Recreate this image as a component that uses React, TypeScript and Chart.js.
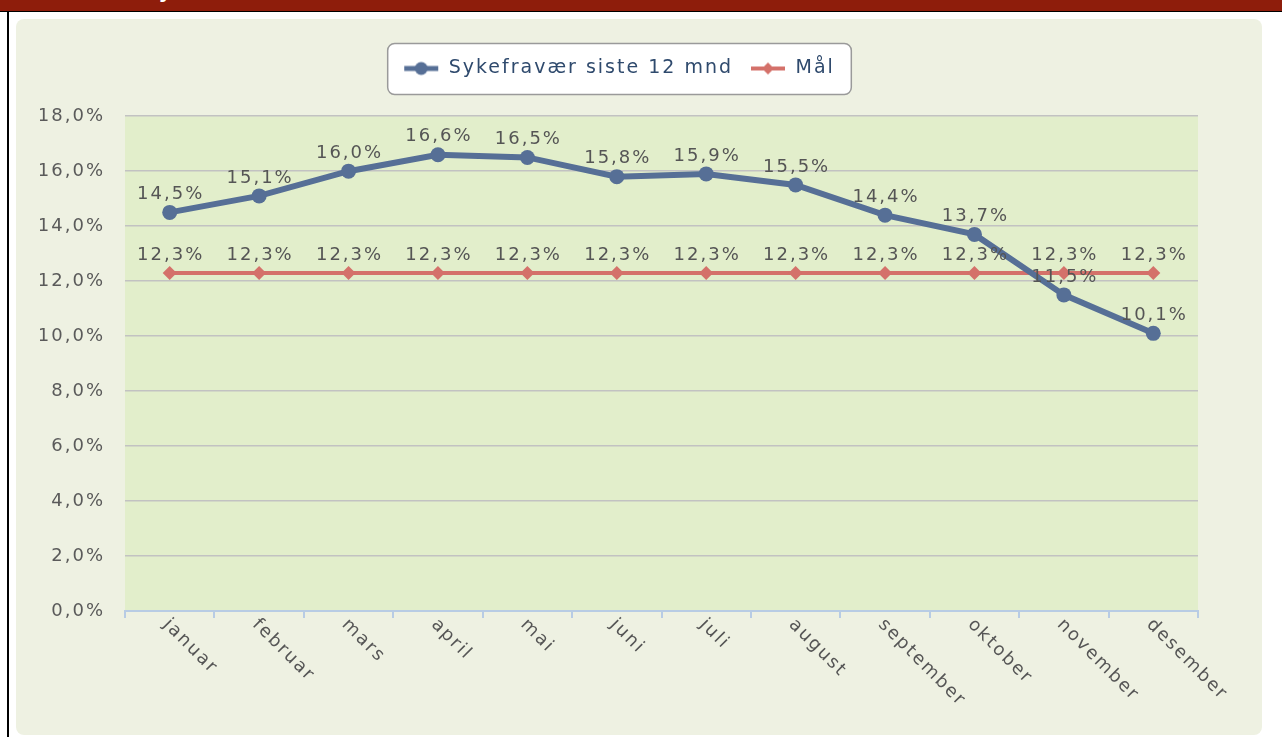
import React, { useEffect, useRef } from "react";
import { Chart, registerables } from "chart.js";

Chart.register(...registerables);

const months = ["januar", "februar", "mars", "april", "mai", "juni", "juli", "august", "september", "oktober", "november", "desember"];
const sickLeave = [14.5, 15.1, 16.0, 16.6, 16.5, 15.8, 15.9, 15.5, 14.4, 13.7, 11.5, 10.1];
const target = [12.3, 12.3, 12.3, 12.3, 12.3, 12.3, 12.3, 12.3, 12.3, 12.3, 12.3, 12.3];
const seriesNames = ["Sykefravær siste 12 mnd", "Mål"];
const yMin = 0;
const yMax = 18;
const yStep = 2;

const BLUE = "#566f96";
const RED = "#d4716a";
const FONT = '"DejaVu Sans", Verdana, sans-serif';

const fmt = (v: number) => v.toFixed(1).replace(".", ",") + "%";

function makeMarker(color: string, shape: "circle" | "diamond") {
  const c = document.createElement("canvas");
  c.width = 36;
  c.height = 16;
  const g = c.getContext("2d")!;
  g.strokeStyle = color;
  g.lineWidth = shape === "circle" ? 5 : 4;
  g.beginPath();
  g.moveTo(1, 8);
  g.lineTo(35, 8);
  g.stroke();
  g.fillStyle = color;
  g.beginPath();
  if (shape === "circle") {
    g.arc(18, 8, 6.5, 0, Math.PI * 2);
  } else {
    g.moveTo(18, 2);
    g.lineTo(24, 8);
    g.lineTo(18, 14);
    g.lineTo(12, 8);
    g.closePath();
  }
  g.fill();
  return c;
}

const spacingPlugin = {
  id: "spacing",
  beforeInit(chart: any) {
    chart.ctx.letterSpacing = "2px";
  },
  beforeUpdate(chart: any) {
    chart.ctx.letterSpacing = "2px";
  },
  beforeLayout(chart: any) {
    chart.ctx.letterSpacing = "2px";
  },
  beforeDraw(chart: any) {
    const { ctx, chartArea } = chart;
    ctx.letterSpacing = "2px";
    ctx.save();
    ctx.fillStyle = "#e2eecb";
    ctx.fillRect(chartArea.left, chartArea.top, chartArea.right - chartArea.left, chartArea.bottom - chartArea.top);
    const hb = chart.legend && chart.legend.legendHitBoxes;
    if (hb && hb.length) {
      const l = Math.min(...hb.map((h: any) => h.left)) - 16;
      const r = Math.max(...hb.map((h: any) => h.left + h.width)) + 16;
      const t = hb[0].top - 16;
      const b = hb[0].top + hb[0].height + 16;
      ctx.beginPath();
      ctx.roundRect(l + 0.5, t + 0.5, r - l, b - t, 7);
      ctx.fillStyle = "#ffffff";
      ctx.fill();
      ctx.lineWidth = 1.5;
      ctx.strokeStyle = "#9a9a9a";
      ctx.stroke();
    }
    ctx.restore();
  },
};

const labelsPlugin = {
  id: "valueLabels",
  afterDatasetsDraw(chart: any) {
    const { ctx } = chart;
    ctx.save();
    ctx.letterSpacing = "2px";
    ctx.font = "18px " + FONT;
    ctx.fillStyle = "#555555";
    ctx.textAlign = "center";
    ctx.textBaseline = "middle";
    for (let d = chart.data.datasets.length - 1; d >= 0; d--) {
      const meta = chart.getDatasetMeta(d);
      const vals = chart.data.datasets[d].data as number[];
      meta.data.forEach((pt: any, i: number) => {
        ctx.fillText(fmt(vals[i]), pt.x + 1, pt.y - 18);
      });
    }
    ctx.restore();
  },
  afterDraw(chart: any) {
    const { ctx } = chart;
    const x = chart.scales.x;
    ctx.save();
    ctx.letterSpacing = "2px";
    ctx.font = "18px " + FONT;
    ctx.fillStyle = "#555555";
    ctx.textAlign = "left";
    ctx.textBaseline = "middle";
    months.forEach((m, i) => {
      const px = x.getPixelForValue(i);
      ctx.save();
      ctx.translate(px - 4, x.top + 11);
      ctx.rotate(Math.PI / 4);
      ctx.fillText(m, 0, 0);
      ctx.restore();
    });
    ctx.restore();
  },
};

export default function App() {
  const ref = useRef<HTMLCanvasElement>(null);

  useEffect(() => {
    if (!ref.current) return;
    const markers = [makeMarker(BLUE, "circle"), makeMarker(RED, "diamond")];
    const chart = new Chart(ref.current, {
      type: "line",
      data: {
        labels: months,
        datasets: [
          {
            label: seriesNames[0],
            data: sickLeave,
            borderColor: BLUE,
            backgroundColor: BLUE,
            borderWidth: 6,
            pointRadius: 7.5,
            pointHoverRadius: 7.5,
            pointStyle: "circle",
            pointBackgroundColor: BLUE,
            pointBorderWidth: 0,
            tension: 0,
          },
          {
            label: seriesNames[1],
            data: target,
            borderColor: RED,
            backgroundColor: RED,
            borderWidth: 4,
            pointRadius: 7,
            pointHoverRadius: 7,
            pointStyle: "rectRot",
            pointBackgroundColor: RED,
            pointBorderWidth: 0,
            tension: 0,
          },
        ],
      },
      options: {
        responsive: false,
        animation: false,
        events: [],
        layout: { padding: { left: 24, right: 64, top: 23, bottom: 117 } },
        plugins: {
          tooltip: { enabled: false },
          title: { display: false },
          subtitle: {
            display: true,
            text: "",
            weight: 1,
            font: { size: 1 },
            padding: { top: 27, bottom: 0 },
          } as any,
          legend: {
            display: true,
            position: "top",
            labels: {
              usePointStyle: true,
              pointStyleWidth: 36,
              padding: 17,
              color: "#2f4a6d",
              font: { family: FONT, size: 19 },
              generateLabels: (c: any) =>
                Chart.defaults.plugins.legend.labels.generateLabels(c).map((l: any, i: number) => ({
                  ...l,
                  pointStyle: markers[i],
                  fontColor: "#2f4a6d",
                })),
            },
          },
        },
        scales: {
          x: {
            type: "category",
            offset: true,
            grid: {
              offset: true,
              drawOnChartArea: false,
              drawTicks: true,
              tickLength: 7,
              color: "#b8cce4",
              lineWidth: 2,
            },
            border: { display: true, color: "#b8cce4", width: 2 },
            ticks: { display: false },
          },
          y: {
            min: yMin,
            max: yMax,
            afterFit: (s: any) => {
              s.width = 85;
            },
            ticks: {
              stepSize: yStep,
              padding: 20,
              color: "#5a5a5a",
              font: { family: FONT, size: 18 },
              callback: (v: any) => fmt(Number(v)),
            },
            grid: {
              drawTicks: false,
              lineWidth: 1.5,
              color: (c: any) => (c.tick && c.tick.value === 0 ? "rgba(0,0,0,0)" : "#c2c2c2"),
            },
            border: { display: false },
          },
        },
      },
      plugins: [spacingPlugin, labelsPlugin],
    });
    return () => chart.destroy();
  }, []);

  return (
    <div style={{ position: "fixed", left: 0, top: 0, width: 1282, height: 737, background: "#ffffff", overflow: "hidden" }}>
      <div style={{ position: "absolute", left: 0, top: 0, width: 1282, height: 11, background: "#8e1d0b", overflow: "hidden" }}>
        <div
          style={{
            position: "absolute",
            left: 144,
            top: -19,
            color: "#ffffff",
            font: "bold 20px " + FONT,
            lineHeight: "20px",
            whiteSpace: "nowrap",
          }}
        >
          Sykefravær
        </div>
      </div>
      <div style={{ position: "absolute", left: 0, top: 11, width: 1282, height: 1, background: "#000000" }} />
      <div style={{ position: "absolute", left: 7, top: 11, width: 2, height: 726, background: "#000000" }} />
      <div
        style={{
          position: "absolute",
          left: 16,
          top: 19,
          width: 1246,
          height: 716,
          borderRadius: 8,
          background: "#eef1e2",
          overflow: "hidden",
        }}
      >
        <canvas ref={ref} width={1246} height={716} style={{ display: "block", width: 1246, height: 716 }} />
      </div>
    </div>
  );
}
